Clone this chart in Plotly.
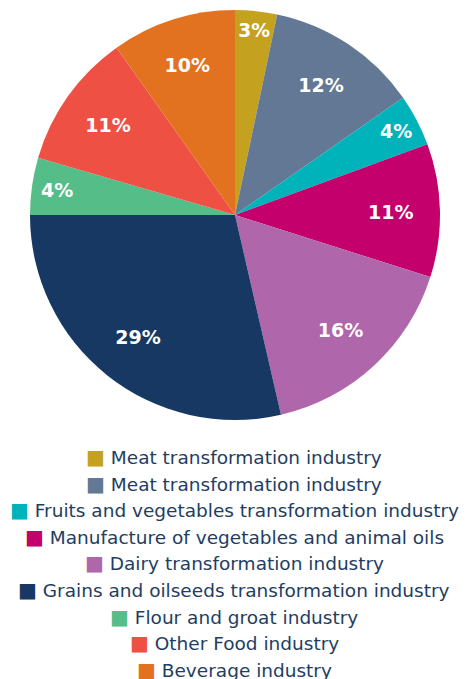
import plotly.graph_objects as go

categories = [
    "Meat transformation industry",
    "Meat transformation industry",
    "Fruits and vegetables transformation industry",
    "Manufacture of vegetables and animal oils",
    "Dairy transformation industry",
    "Grains and oilseeds transformation industry",
    "Flour and groat industry",
    "Other Food industry",
    "Beverage industry",
]
shares = [3.3, 12.0, 4.1, 10.5, 16.5, 28.6, 4.5, 10.7, 9.8]
pct_labels = ["3%", "12%", "4%", "11%", "16%", "29%", "4%", "11%", "10%"]
colors = ["#c4a11f", "#627894", "#00b3bb", "#c4006c", "#b066aa",
          "#173862", "#55bd87", "#ef5044", "#e27220"]

W, H = 467, 679
OFF = 8  # page body margin
cx, cy, r = 235 - OFF, 215 - OFF, 205

ids = [f"{i}" for i in range(len(categories))]
dom = dict(x=[(cx - r) / W, (cx + r) / W], y=[1 - (cy + r) / H, 1 - (cy - r) / H])

fig = go.Figure()
fig.add_trace(go.Pie(
    labels=ids, values=shares, textinfo="none", sort=False,
    direction="clockwise", rotation=0,
    marker=dict(colors=colors, line=dict(width=0)),
    domain=dom, showlegend=False, hoverinfo="skip",
))
# transparent ring on top that carries the percentage labels
fig.add_trace(go.Pie(
    labels=ids, values=shares, text=pct_labels, textinfo="text",
    textposition="inside", insidetextorientation="horizontal",
    sort=False, direction="clockwise", rotation=0, hole=0.52,
    marker=dict(colors=["rgba(0,0,0,0)"] * len(shares), line=dict(width=0)),
    textfont=dict(family="DejaVu Sans", size=19, color="white", weight="bold"),
    domain=dom, showlegend=False, hoverinfo="skip",
))

y0, dy = 457 - OFF, 26.6
for i, (name, col) in enumerate(zip(categories, colors)):
    fig.add_annotation(
        x=(234 - OFF) / W, y=1 - (y0 + i * dy) / H, xref="paper", yref="paper",
        xanchor="center", yanchor="middle", showarrow=False,
        text=f'<span style="color:{col};font-size:20px">■</span> {name}',
        font=dict(family="DejaVu Sans", size=18.5, color="#233d62"),
    )

fig.update_layout(
    width=W, height=H,
    margin=dict(l=0, r=0, t=0, b=0),
    paper_bgcolor="white", plot_bgcolor="white",
)
fig.write_html("out.html")
